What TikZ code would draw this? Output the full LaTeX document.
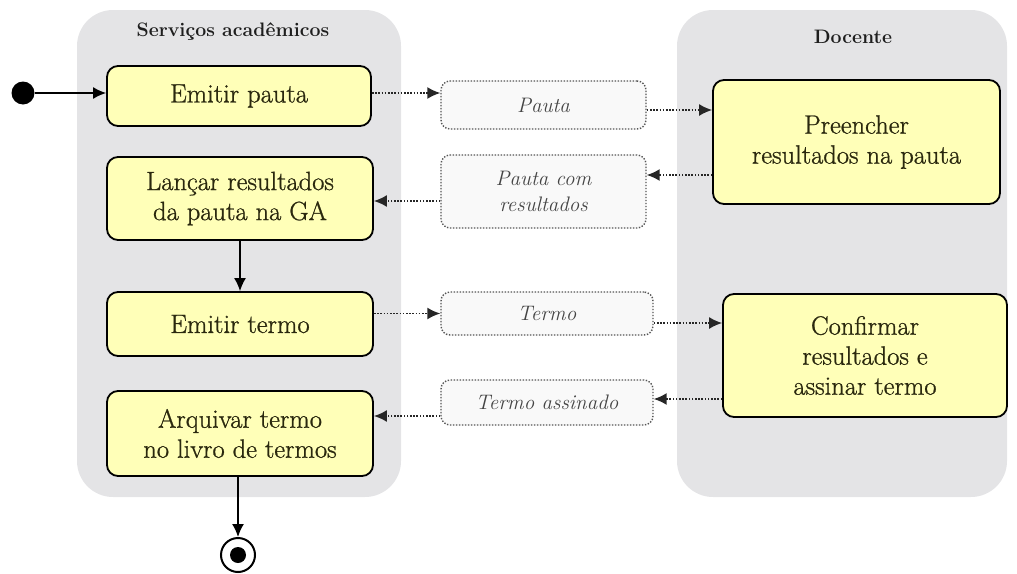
\documentclass[tikz,border=0pt]{standalone}
\usepackage{fontspec}
\newfontfamily\boxfont{Latin Modern Roman}[FakeBold=0.9]
\usetikzlibrary{arrows.meta}
\definecolor{lanegray}{HTML}{E4E4E6}
\definecolor{boxyellow}{HTML}{FFFFB8}
\definecolor{boxtext}{HTML}{2A280E}
\definecolor{datatext}{HTML}{444444}
\definecolor{databorder}{HTML}{555555}
\definecolor{datafill}{HTML}{F9F9F9}
\definecolor{titletext}{HTML}{1E1E1E}
\tikzset{
  lane/.style={fill=lanegray, draw=none, rounded corners=36pt, inner sep=0pt},
  lanetitle/.style={text=titletext, font=\fontsize{19.5}{22}\selectfont\bfseries},
  actbox/.style={draw=black, line width=1.8pt, fill=boxyellow, rounded corners=11pt,
    inner sep=0pt, align=center, text=boxtext, font=\boxfont\fontsize{26.5}{30}\selectfont},
  databox/.style={draw=databorder, line width=1.4pt, dash pattern=on 1.4pt off 1.6pt,
    fill=datafill, rounded corners=9pt, inner sep=0pt, align=center, text=datatext,
    font=\fontsize{21}{26}\selectfont\itshape},
  flow/.style={draw=black, line width=1.6pt, -{Latex[length=13pt,width=12pt]}},
  dflow/.style={draw=black!85, line width=1.6pt, dash pattern=on 1.6pt off 1.6pt,
    -{Latex[length=13pt,width=12pt]}},
  startdot/.style={circle, fill=black, minimum size=23pt, inner sep=0pt},
}
\begin{document}
\begin{tikzpicture}[x=1pt,y=-1pt]
\useasboundingbox (0,0) rectangle (1017,573);
% swimlanes
\node[lane, minimum width=324pt, minimum height=487pt] (lsa) at (239,253.5) {};
\node[lane, minimum width=330pt, minimum height=487pt] (ldo) at (842,253.5) {};
\node[lanetitle] (tsa) at (233,32) {Serviços acadêmicos};
\node[lanetitle] (tdo) at (853,37) {Docente};
% activities
\node[actbox, minimum width=264pt, minimum height=60pt] (ep) at (239,96) {Emitir pauta};
\node[actbox, minimum width=266pt, minimum height=83pt] (lr) at (240,198.5) {Lançar resultados\\da pauta na GA};
\node[actbox, minimum width=266pt, minimum height=64pt] (et) at (240,324) {Emitir termo};
\node[actbox, minimum width=266pt, minimum height=85pt] (at) at (240,433.5) {Arquivar termo\\no livro de termos};
\node[actbox, minimum width=287pt, minimum height=124pt] (pr) at (856.5,142) {Preencher\\resultados na pauta};
\node[actbox, minimum width=284pt, minimum height=123pt] (cf) at (865,355.5) {Confirmar\\resultados e\\assinar termo};
% data objects
\node[databox, minimum width=205pt, minimum height=48pt] (pauta) at (543.5,105) {Pauta};
\node[databox, minimum width=205pt, minimum height=73pt] (pcr) at (543.5,191.5) {Pauta com\\resultados};
\node[databox, minimum width=212pt, minimum height=43pt] (termo) at (547,313.5) {Termo};
\node[databox, minimum width=212pt, minimum height=45pt] (ta) at (547,402.5) {Termo assinado};
% start / end
\node[startdot] (start) at (23,93) {};
\node[circle, draw=black, line width=2pt, fill=white, minimum size=34pt, inner sep=0pt] (end) at (238,555) {};
\node[circle, fill=black, minimum size=16pt, inner sep=0pt] (endin) at (end.center) {};
% helper coordinates
\coordinate (k1) at ([yshift=3pt]ep.east);
\coordinate (k2) at ([yshift=-5pt]pauta.east);
\coordinate (k3) at ([yshift=16.5pt]pcr.east);
\coordinate (k4) at ([yshift=-9.5pt]pcr.west);
\coordinate (k6) at ([yshift=-9.5pt]termo.east);
\coordinate (k7) at ([yshift=3.5pt]ta.east);
\coordinate (k8) at ([yshift=-13.5pt]ta.west);
% control flow
\draw[flow] (start) -- (start -| ep.west);
\draw[flow] (lr.south -| et.north) -- (et.north);
\draw[flow] (at.south -| end.north) -- (end.north);
% object flow
\draw[dflow] (k1) -- (k1 -| pauta.west);
\draw[dflow] (k2) -- (k2 -| pr.west);
\draw[dflow] (k3 -| pr.west) -- (k3);
\draw[dflow] (k4) -- (k4 -| lr.east);
\draw[dflow] (termo.west -| et.east) -- (termo.west);
\draw[dflow] (k6) -- (k6 -| cf.west);
\draw[dflow] (k7 -| cf.west) -- (k7);
\draw[dflow] (k8) -- (k8 -| at.east);
\end{tikzpicture}
\end{document}
